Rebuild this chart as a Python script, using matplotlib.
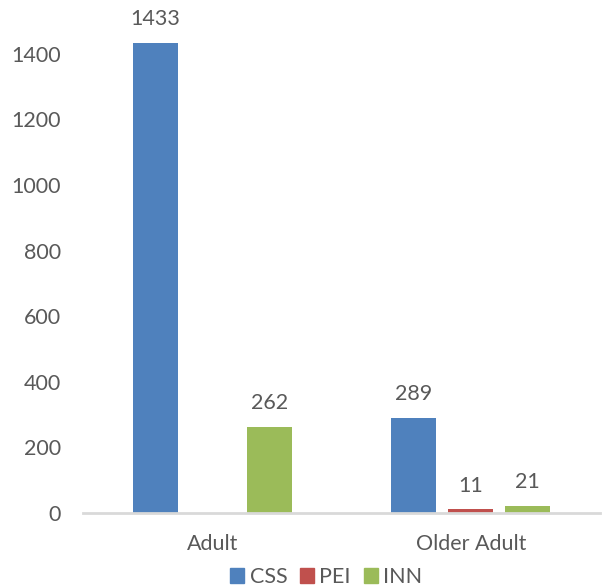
import matplotlib.pyplot as plt
import numpy as np
from matplotlib.patches import Patch

# data
categories = ['Adult', 'Older Adult']
series = ['CSS', 'PEI', 'INN']
css = [1433, 289]
pei = [0, 11]
inn = [262, 21]
colors = ['#4F81BD', '#C0504D', '#9BBB59']
text_col = '#595959'

plt.rcParams['font.family'] = ['Lato', 'DejaVu Sans']

fig = plt.figure(figsize=(6.02, 5.86), dpi=100)
ax = fig.add_axes([83 / 602, 73 / 586, 517 / 602, 513 / 586])

x = np.arange(len(categories))
w = 45 / 258.5
step = 57 / 258.5
for i, (vals, c) in enumerate(zip([css, pei, inn], colors)):
    pos = x + (i - 1) * step
    ax.bar(pos, vals, width=w, color=c)
    for p, v in zip(pos, vals):
        if v > 0:
            ax.annotate(str(v), (p, v), xytext=(0, 10), textcoords='offset points',
                        ha='center', va='bottom', fontsize=15.5, color=text_col)

ax.set_xlim(-0.5, 1.5)
ax.set_ylim(0, 1564)
ax.set_yticks(range(0, 1401, 200))
ax.set_xticks(x)
ax.set_xticklabels(categories)
ax.tick_params(axis='y', length=0, pad=16, labelsize=15.5, labelcolor=text_col)
ax.tick_params(axis='x', length=0, pad=15, labelsize=15.5, labelcolor=text_col)

for s in ['top', 'right', 'left']:
    ax.spines[s].set_visible(False)
ax.spines['bottom'].set_color('#D9D9D9')
ax.spines['bottom'].set_linewidth(2)

handles = [Patch(color=c, label=s) for s, c in zip(series, colors)]
fig.legend(handles=handles, loc='lower center', bbox_to_anchor=(0.542, -0.035), ncol=3,
           frameon=False, fontsize=15.5, labelcolor=text_col, handlelength=0.65,
           handleheight=0.65, handletextpad=0.25, columnspacing=0.6)

plt.savefig('out.png', dpi=100)
